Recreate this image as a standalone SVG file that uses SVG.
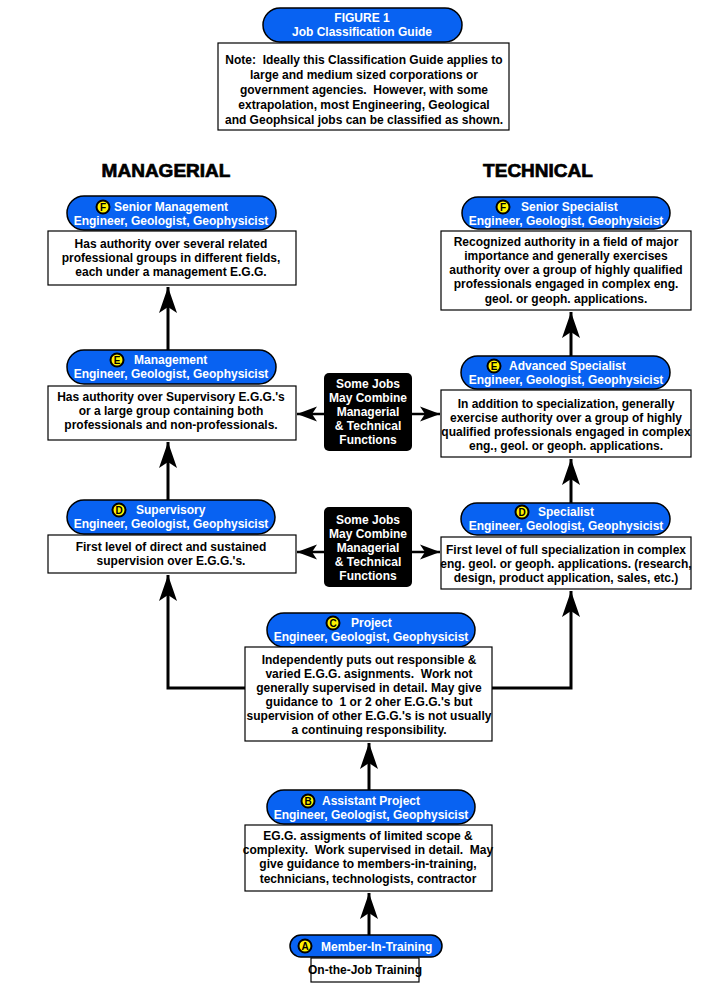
<svg xmlns="http://www.w3.org/2000/svg" width="706" height="990" viewBox="0 0 706 990" xml:space="preserve">
<defs>
<style>
text{white-space:pre}
.pill{fill:#0862F2;stroke:#000;stroke-width:1.5}
.box{fill:#fff;stroke:#000;stroke-width:1.2}
.blk{fill:#000}
.pt{font-family:"Liberation Sans",Arial,sans-serif;font-weight:bold;font-size:12px;fill:#fff}
.bt{font-family:"Liberation Sans",Arial,sans-serif;font-weight:bold;font-size:12px;fill:#000;text-anchor:middle}
.wt{font-family:"Liberation Sans",Arial,sans-serif;font-weight:bold;font-size:12px;fill:#fff;text-anchor:middle}
.badge{fill:#FFF200;stroke:#000;stroke-width:2}
.bl{font-family:"Liberation Sans",Arial,sans-serif;font-weight:bold;font-size:10px;fill:#000;text-anchor:middle}
.hd{font-family:"Liberation Sans",Arial,sans-serif;font-weight:bold;font-size:19px;fill:#000;stroke:#000;stroke-width:0.7;text-anchor:middle}
.ln{fill:none;stroke:#000;stroke-width:3}
.lh{fill:none;stroke:#000;stroke-width:2.5}
</style>
<marker id="ah" markerUnits="userSpaceOnUse" markerWidth="30" markerHeight="22" viewBox="-27 -11 30 22" refX="0" refY="0" orient="auto">
<path d="M0,0 L-26,-9 L-20,0 L-26,9 Z" fill="#000"/>
</marker>
<marker id="ahs" markerUnits="userSpaceOnUse" markerWidth="24" markerHeight="18" viewBox="-21 -9 24 18" refX="0" refY="0" orient="auto">
<path d="M0,0 L-20,-7.5 L-15,0 L-20,7.5 Z" fill="#000"/>
</marker>
</defs>
<g id="connectors">
<path class="ln" d="M168,350 V287" marker-end="url(#ah)"/>
<path class="ln" d="M571,356 V312" marker-end="url(#ah)"/>
<path class="ln" d="M168,500 V442" marker-end="url(#ah)"/>
<path class="ln" d="M571,503 V459" marker-end="url(#ah)"/>
<path class="ln" d="M245,688 H168 V575" marker-end="url(#ah)"/>
<path class="ln" d="M492,688 H571 V591" marker-end="url(#ah)"/>
<path class="ln" d="M369,790 V743" marker-end="url(#ah)"/>
<path class="ln" d="M369,935 V893" marker-end="url(#ah)"/>
<path class="lh" d="M324,414 H297" marker-end="url(#ahs)"/>
<path class="lh" d="M412,414 H440" marker-end="url(#ahs)"/>
<path class="lh" d="M324,552 H297" marker-end="url(#ahs)"/>
<path class="lh" d="M412,552 H440" marker-end="url(#ahs)"/>
</g>
<g id="title">
<rect class="pill" x="263" y="8" width="199" height="34" rx="17"/>
<text class="wt" x="362" y="22">FIGURE 1</text>
<text class="wt" x="362" y="36">Job Classification Guide</text>
</g>
<g id="note">
<rect class="box" x="218" y="43" width="291" height="87"/>
<text class="bt" x="364" y="64">Note:  Ideally this Classification Guide applies to</text>
<text class="bt" x="364" y="79">large and medium sized corporations or</text>
<text class="bt" x="364" y="94">government agencies.  However, with some</text>
<text class="bt" x="364" y="109">extrapolation, most Engineering, Geological</text>
<text class="bt" x="364" y="124">and Geophsical jobs can be classified as shown.</text>
</g>
<g id="headings">
<text class="hd" x="166" y="177">MANAGERIAL</text>
<text class="hd" x="538" y="177">TECHNICAL</text>
</g>
<g id="senior-management">
<rect class="pill" x="67" y="196" width="209" height="34" rx="17"/>
<circle class="badge" cx="103" cy="207" r="6.5"/>
<text class="bl" x="103" y="210.5">F</text>
<text class="pt" x="114" y="211">Senior Management</text>
<text class="wt" x="171" y="225">Engineer, Geologist, Geophysicist</text>
<rect class="box" x="48" y="231" width="248" height="54"/>
<text class="bt" x="171" y="248">Has authority over several related</text>
<text class="bt" x="171" y="262">professional groups in different fields,</text>
<text class="bt" x="171" y="276">each under a management E.G.G.</text>
</g>
<g id="senior-specialist">
<rect class="pill" x="462" y="197" width="208" height="32" rx="16"/>
<circle class="badge" cx="503" cy="207" r="6.5"/>
<text class="bl" x="503" y="210.5">F</text>
<text class="pt" x="521" y="211">Senior Specialist</text>
<text class="wt" x="566" y="225">Engineer, Geologist, Geophysicist</text>
<rect class="box" x="441" y="231" width="250" height="79"/>
<text class="bt" x="566" y="246">Recognized authority in a field of major</text>
<text class="bt" x="566" y="260">importance and generally exercises</text>
<text class="bt" x="566" y="274">authority over a group of highly qualified</text>
<text class="bt" x="566" y="288">professionals engaged in complex eng.</text>
<text class="bt" x="566" y="303">geol. or geoph. applications.</text>
</g>
<g id="management">
<rect class="pill" x="67" y="350" width="209" height="34" rx="17"/>
<circle class="badge" cx="117" cy="360" r="6.5"/>
<text class="bl" x="117" y="363.5">E</text>
<text class="pt" x="134" y="364">Management</text>
<text class="wt" x="171" y="378">Engineer, Geologist, Geophysicist</text>
<rect class="box" x="48" y="386" width="248" height="54"/>
<text class="bt" x="171" y="401">Has authority over Supervisory E.G.G.'s</text>
<text class="bt" x="171" y="415">or a large group containing both</text>
<text class="bt" x="171" y="429">professionals and non-professionals.</text>
</g>
<g id="advanced-specialist">
<rect class="pill" x="461" y="356" width="209" height="33" rx="16.5"/>
<circle class="badge" cx="494" cy="366" r="6.5"/>
<text class="bl" x="494" y="369.5">E</text>
<text class="pt" x="509" y="370">Advanced Specialist</text>
<text class="wt" x="566" y="384">Engineer, Geologist, Geophysicist</text>
<rect class="box" x="441" y="390" width="250" height="67"/>
<text class="bt" x="566" y="408">In addition to specialization, generally</text>
<text class="bt" x="566" y="422">exercise authority over a group of highly</text>
<text class="bt" x="566" y="436">qualified professionals engaged in complex</text>
<text class="bt" x="566" y="450">eng., geol. or geoph. applications.</text>
</g>
<g id="combine-1">
<rect class="blk" x="324" y="373" width="88" height="78" rx="5"/>
<text class="wt" x="368" y="388">Some Jobs</text>
<text class="wt" x="368" y="402">May Combine</text>
<text class="wt" x="368" y="416">Managerial</text>
<text class="wt" x="368" y="430">&amp; Technical</text>
<text class="wt" x="368" y="444">Functions</text>
</g>
<g id="supervisory">
<rect class="pill" x="67" y="500" width="208" height="34" rx="17"/>
<circle class="badge" cx="119" cy="510" r="6.5"/>
<text class="bl" x="119" y="513.5">D</text>
<text class="pt" x="136" y="514">Supervisory</text>
<text class="wt" x="171" y="528">Engineer, Geologist, Geophysicist</text>
<rect class="box" x="48" y="535" width="248" height="38"/>
<text class="bt" x="171" y="551">First level of direct and sustained</text>
<text class="bt" x="171" y="565">supervision over E.G.G.'s.</text>
</g>
<g id="combine-2">
<rect class="blk" x="324" y="507" width="88" height="80" rx="5"/>
<text class="wt" x="368" y="524">Some Jobs</text>
<text class="wt" x="368" y="538">May Combine</text>
<text class="wt" x="368" y="552">Managerial</text>
<text class="wt" x="368" y="566">&amp; Technical</text>
<text class="wt" x="368" y="580">Functions</text>
</g>
<g id="specialist">
<rect class="pill" x="461" y="503" width="209" height="32" rx="16"/>
<circle class="badge" cx="522" cy="512" r="6.5"/>
<text class="bl" x="522" y="515.5">D</text>
<text class="pt" x="538" y="516">Specialist</text>
<text class="wt" x="566" y="530">Engineer, Geologist, Geophysicist</text>
<rect class="box" x="441" y="537" width="250" height="52"/>
<text class="bt" x="566" y="554">First level of full specialization in complex</text>
<text class="bt" x="566" y="568">eng. geol. or geoph. applications. (research,</text>
<text class="bt" x="566" y="582">design, product application, sales, etc.)</text>
</g>
<g id="project">
<rect class="pill" x="267" y="613" width="208" height="34" rx="17"/>
<circle class="badge" cx="333" cy="623" r="6.5"/>
<text class="bl" x="333" y="626.5">C</text>
<text class="pt" x="351" y="627">Project</text>
<text class="wt" x="371" y="641">Engineer, Geologist, Geophysicist</text>
<rect class="box" x="245" y="647" width="247" height="94"/>
<text class="bt" x="369" y="664">Independently puts out responsible &amp;</text>
<text class="bt" x="369" y="678">varied E.G.G. asignments.  Work not</text>
<text class="bt" x="369" y="692">generally supervised in detail. May give</text>
<text class="bt" x="369" y="706">guidance to  1 or 2 oher E.G.G.'s but</text>
<text class="bt" x="369" y="720">supervision of other E.G.G.'s is not usually</text>
<text class="bt" x="369" y="734">a continuing responsibility.</text>
</g>
<g id="assistant-project">
<rect class="pill" x="267" y="790" width="208" height="34" rx="17"/>
<circle class="badge" cx="308" cy="801" r="6.5"/>
<text class="bl" x="308" y="804.5">B</text>
<text class="pt" x="322" y="805">Assistant Project</text>
<text class="wt" x="371" y="819">Engineer, Geologist, Geophysicist</text>
<rect class="box" x="245" y="825" width="247" height="66"/>
<text class="bt" x="368" y="840">EG.G. assigments of limited scope &amp;</text>
<text class="bt" x="368" y="854">complexity.  Work supervised in detail.  May</text>
<text class="bt" x="368" y="868">give guidance to members-in-training,</text>
<text class="bt" x="368" y="883">technicians, technologists, contractor</text>
</g>
<g id="member-in-training">
<rect class="pill" x="290" y="935" width="152" height="22" rx="11"/>
<circle class="badge" cx="305" cy="946" r="6.5"/>
<text class="bl" x="305" y="949.5">A</text>
<text class="pt" x="321" y="950.5">Member-In-Training</text>
<rect class="box" x="311" y="958" width="108" height="24"/>
<text class="bt" x="365" y="974">On-the-Job Training</text>
</g>
</svg>
